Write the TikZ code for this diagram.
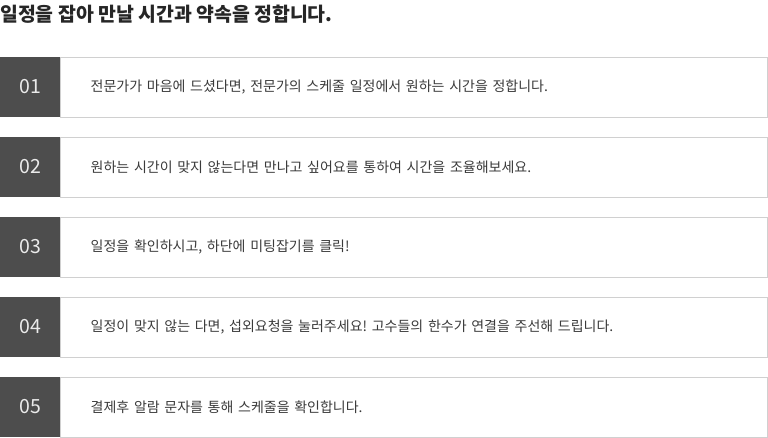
\documentclass[tikz,border=0pt]{standalone}
\usepackage{fontspec}
\usetikzlibrary{positioning}
\newfontfamily\krfont{Noto Sans CJK KR}
\definecolor{numgray}{HTML}{4D4D4D}
\definecolor{linegray}{HTML}{D0D0D0}
\definecolor{textgray}{HTML}{3A3A3A}
\frenchspacing

\begin{document}
\begin{tikzpicture}[x=1pt,y=-1pt]
\tikzstyle{numbox} = [
	shape=rectangle,
	fill=numgray, %dark square behind the number
	text=white!92!black,
	minimum width=60pt,
	minimum height=60pt,
	inner sep=0pt,
	font=\krfont\fontsize{19.5}{20}\selectfont
];
\tikzstyle{stepbox} = [
	shape=rectangle,
	draw=linegray, %thin grey border
	line width=1pt,
	text=textgray,
	minimum height=60pt,
	text width=647pt,
	inner xsep=30pt,
	inner ysep=0pt,
	align=left,
	font=\krfont\fontsize{14}{16}\selectfont
];

\useasboundingbox (0,0) rectangle (768,437);

%title
\node[anchor=west, inner sep=0pt, text=black!85, font=\krfont\bfseries\fontsize{19.4}{24}\selectfont]
	(title) at (0,14) {일정을 잡아 만날 시간과 약속을 정합니다.};

%steps
\node[numbox](n1) at (30,87) {01};
\node[stepbox, right=0pt of n1](s1) {전문가가 마음에 드셨다면, 전문가의 스케줄 일정에서 원하는 시간을 정합니다.};

\node[numbox](n2) at (30,167) {02};
\node[stepbox, right=0pt of n2](s2) {원하는 시간이 맞지 않는다면 만나고 싶어요를 통하여 시간을 조율해보세요.};

\node[numbox](n3) at (30,247) {03};
\node[stepbox, right=0pt of n3](s3) {일정을 확인하시고, 하단에 미팅잡기를 클릭!};

\node[numbox](n4) at (30,327) {04};
\node[stepbox, right=0pt of n4](s4) {일정이 맞지 않는 다면, 섭외요청을 눌러주세요! 고수들의 한수가 연결을 주선해 드립니다.};

\node[numbox](n5) at (30,407) {05};
\node[stepbox, right=0pt of n5](s5) {결제후 알람 문자를 통해 스케줄을 확인합니다.};

\end{tikzpicture}
\end{document}
